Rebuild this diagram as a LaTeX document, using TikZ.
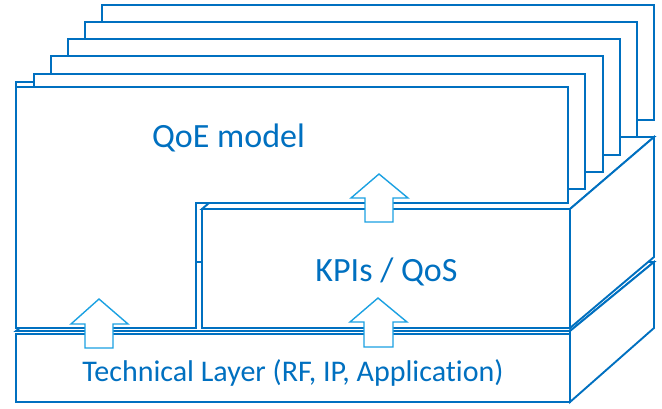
\documentclass[tikz,border=0pt]{standalone}
\usepackage{fontspec}
\setmainfont{Carlito}[Ligatures={NoCommon,NoRare,NoContextual}]
\definecolor{boxblue}{RGB}{0,112,192}
\definecolor{arrowblue}{RGB}{27,161,226}
\tikzset{
  facebox/.style={draw=boxblue,fill=white,line width=1.9pt,line join=miter},
  blockarrow/.style={draw=arrowblue,fill=white,line width=1.4pt,line join=miter},
  label/.style={text=boxblue,inner sep=0pt,anchor=base}
}
\begin{document}
\begin{tikzpicture}[x=1pt,y=-1pt]
\useasboundingbox (0,0) rectangle (662,409);
% technical layer cube
\draw[facebox] (16,331) -- (100,262) -- (654,262) -- (570,331) -- cycle;
\draw[facebox] (570,331) -- (654,262) -- (654,328) -- (570,402) -- cycle;
\draw[facebox] (16,334) rectangle (570,402);
% KPI cube top face (mostly hidden)
\draw[facebox] (202,209) -- (286,137) -- (654,137) -- (570,209) -- cycle;
% QoE top face stub and stacked cards
\draw[facebox] (16,82) rectangle (540,200);
\draw[facebox] (102,5) rectangle (654,120);
\draw[facebox] (85,22) rectangle (637,137);
\draw[facebox] (68,39) rectangle (620,155);
\draw[facebox] (51,56) rectangle (603,172);
\draw[facebox] (34,74) rectangle (585,189);
% QoE front face (L shape)
\draw[facebox] (16,87) -- (568,87) -- (568,203) -- (196,203) -- (196,328) -- (16,328) -- cycle;
% KPI cube side and front
\draw[facebox] (570,209) -- (654,137) -- (654,257) -- (570,328) -- cycle;
\draw[facebox] (202,209) rectangle (570,328);
% line between layers
\draw[draw=boxblue,line width=1.9pt] (16,331) -- (570,331);
% block arrows
\draw[blockarrow] (85,348) -- (85,324) -- (71,324) -- (99,299) -- (128,324) -- (113,324) -- (113,348) -- cycle;
\draw[blockarrow] (364,347) -- (364,322) -- (350,322) -- (378,298) -- (407,322) -- (393,322) -- (393,347) -- cycle;
\draw[blockarrow] (365,222) -- (365,198) -- (351,198) -- (379,174) -- (408,198) -- (393,198) -- (393,222) -- cycle;
% texts
\node[label,font=\fontsize{34}{40}\selectfont] (qoe) at (228.5,148) {QoE model};
\node[label,font=\fontsize{34}{40}\selectfont] (kpi) at (386.5,281) {KPIs / QoS};
\node[label,font=\fontsize{30}{36}\selectfont] (tech) at (293,381) {Technical Layer (RF, IP, Application)};
\end{tikzpicture}
\end{document}
